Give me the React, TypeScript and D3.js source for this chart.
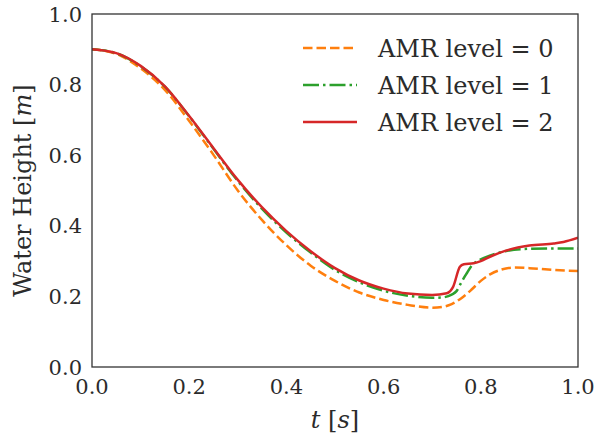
import * as d3 from 'd3';

// sample times (s) and water heights (m)
const T_L0 = [0, 0.05, 0.1, 0.15, 0.2, 0.25, 0.3, 0.35, 0.4, 0.45, 0.5, 0.55, 0.6, 0.65, 0.7, 0.72, 0.74, 0.76, 0.78, 0.8, 0.82, 0.84, 0.87, 0.9, 0.95, 1.0];
const H_L0 = [0.9, 0.887, 0.846, 0.785, 0.697, 0.601, 0.5, 0.416, 0.345, 0.287, 0.244, 0.211, 0.19, 0.176, 0.168, 0.17, 0.178, 0.195, 0.218, 0.244, 0.263, 0.275, 0.282, 0.28, 0.275, 0.272];

const T_L1 = [0, 0.05, 0.1, 0.15, 0.2, 0.25, 0.3, 0.35, 0.4, 0.45, 0.5, 0.55, 0.6, 0.65, 0.7, 0.72, 0.74, 0.75, 0.76, 0.77, 0.78, 0.8, 0.82, 0.85, 0.9, 0.95, 1.0];
const H_L1 = [0.9, 0.889, 0.852, 0.794, 0.71, 0.618, 0.527, 0.448, 0.381, 0.324, 0.275, 0.24, 0.216, 0.202, 0.196, 0.197, 0.205, 0.215, 0.24, 0.263, 0.285, 0.305, 0.316, 0.328, 0.335, 0.336, 0.336];

const T_L2 = [0, 0.05, 0.1, 0.15, 0.2, 0.25, 0.3, 0.35, 0.4, 0.45, 0.5, 0.55, 0.6, 0.65, 0.7, 0.73, 0.743, 0.757, 0.765, 0.785, 0.8, 0.82, 0.85, 0.9, 0.95, 0.97, 1.0];
const H_L2 = [0.9, 0.889, 0.853, 0.795, 0.711, 0.62, 0.53, 0.452, 0.385, 0.328, 0.28, 0.245, 0.222, 0.208, 0.204, 0.209, 0.227, 0.284, 0.291, 0.294, 0.3, 0.313, 0.329, 0.344, 0.35, 0.354, 0.366];

const X_TICKS = [0, 0.2, 0.4, 0.6, 0.8, 1.0];
const Y_TICKS = [0, 0.2, 0.4, 0.6, 0.8, 1.0];

const SERIES = [
  { label: 'AMR level = 0', t: T_L0, h: H_L0, color: '#ff7f0e', dash: '9.5,4' },
  { label: 'AMR level = 1', t: T_L1, h: H_L1, color: '#2ca02c', dash: '16,4,2.5,4' },
  { label: 'AMR level = 2', t: T_L2, h: H_L2, color: '#d62728', dash: null },
];

const W = 595;
const H = 441;
const M = { left: 92, right: 17, top: 14, bottom: 74 };
const FONT = "'DejaVu Serif', serif";
const INK = '#2b2b2b';

export default function App() {
  const x = d3.scaleLinear().domain([0, 1]).range([M.left, W - M.right]);
  const y = d3.scaleLinear().domain([0, 1]).range([H - M.bottom, M.top]);
  const line = d3.line<[number, number]>()
    .x((d) => x(d[0]))
    .y((d) => y(d[1]))
    .curve(d3.curveMonotoneX);

  const cx = (x(0) + x(1)) / 2;
  const cy = (y(0) + y(1)) / 2;
  const txt = { fontFamily: FONT, fontSize: 24 };
  const tick = { fontFamily: FONT, fontSize: 21 };

  return (
    <svg width={W} height={H} style={{ position: 'absolute', left: 0, top: 0, background: '#fff' }}>
      <defs>
        <clipPath id="plot">
          <rect x={x(0)} y={y(1)} width={x(1) - x(0)} height={y(0) - y(1)} />
        </clipPath>
      </defs>

      <g clipPath="url(#plot)">
        {SERIES.map((s) => (
          <path key={s.label}
            d={line(s.t.map((t, i) => [t, s.h[i]] as [number, number])) || ''}
            fill="none" stroke={s.color} strokeWidth={2.5}
            strokeDasharray={s.dash || undefined} />
        ))}
      </g>

      {/* frame */}
      <rect x={x(0)} y={y(1)} width={x(1) - x(0)} height={y(0) - y(1)}
        fill="none" stroke="#333" strokeWidth={1.3} />

      {X_TICKS.map((t) => (
        <text key={'x' + t} x={x(t)} y={394} textAnchor="middle" style={tick} fill={INK}>
          {t.toFixed(1)}
        </text>
      ))}
      {Y_TICKS.map((v) => (
        <text key={'y' + v} x={82} y={y(v)} dy="0.36em" textAnchor="end" style={tick} fill={INK}>
          {v.toFixed(1)}
        </text>
      ))}

      <text x={cx} y={428} textAnchor="middle" style={txt} fill={INK}>
        <tspan fontStyle="italic">t</tspan> [<tspan fontStyle="italic">s</tspan>]
      </text>
      <text transform={`translate(31,${cy}) rotate(-90)`} textAnchor="middle" style={txt} fill={INK}>
        Water Height [<tspan fontStyle="italic">m</tspan>]
      </text>

      {/* legend */}
      {SERIES.map((s, i) => {
        const ly = 48 + i * 37;
        return (
          <g key={'lg' + i}>
            <line x1={303} x2={357} y1={ly} y2={ly} stroke={s.color} strokeWidth={2.5}
              strokeDasharray={s.dash || undefined} />
            <text x={378} y={ly + 8.5} style={txt} fill={INK}>{s.label}</text>
          </g>
        );
      })}
    </svg>
  );
}
